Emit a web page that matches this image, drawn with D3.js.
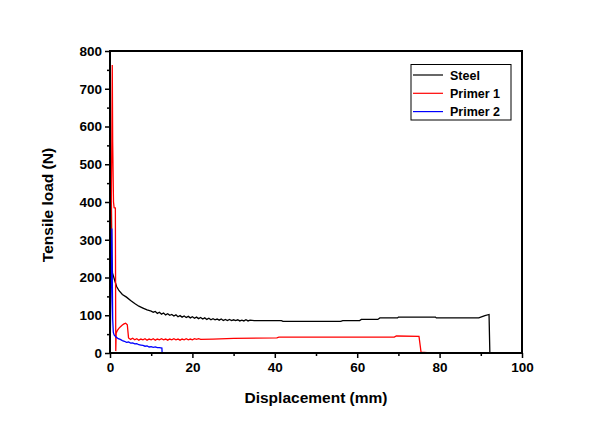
<!DOCTYPE html>
<html><head><meta charset="utf-8">
<script src="https://cdn.jsdelivr.net/npm/d3@7"></script>
<style>body{margin:0;background:#fff;} text{font-family:"Liberation Sans",Arial,sans-serif;font-weight:bold;}</style>
</head><body>
<svg id="c" width="609" height="426"></svg>
<script>
const seriesNames = ["Steel", "Primer 1", "Primer 2"];
const seriesColors = ["#000000", "#ff0000", "#0000ff"];
const xTicks = [0, 20, 40, 60, 80, 100];
const yTicks = [0, 100, 200, 300, 400, 500, 600, 700, 800];

const steelX = [0,0.15,0.3,0.45,0.6,0.8,1.2,1.6,2.2,3,4,5,6,7,8,9,10,10.5,11,11.5,12,12.5,13,13.5,14,14.5,15,15.5,16,16.5,17,17.5,18,18.5,19,19.5,20,20.5,21,21.5,22,22.5,23,23.5,24,24.5,25,25.5,26,26.5,27,27.5,28,28.5,29,29.5,30,30.5,31,31.5,32,32.5,33,33.5,34,35,41.6,42,56,56.5,60.6,61,65,65.5,69.8,70,79,79.2,89.5,91,92,92.2];
const steelY = [0,300,440,260,212,205,190,176,165,155,148,139,131,124,119,114,111,108,110,105,108,103,106,101,104,100,102,98,101,96,99,95,98,94,97,93,96,92,95,91,94,90,93,89,92,88,91,88,90,87,90,86,89,86,89,86,88,86,88,85,87,85,88,85,87,86,86,84,84,86,86,89,89,93,93,95,95,93,93,99,102,0];

const p1X = [0,0.2,0.35,0.45,0.55,0.65,0.85,1.0,1.3,1.4,1.5,1.8,2.2,2.6,3,3.4,3.8,4.2,4.5,5,5.5,6,6.5,7,7.5,8,8.5,9,9.5,10,10.5,11,11.5,12,12.5,13,13.5,14,14.5,15,15.5,16,16.5,17,17.5,18,18.5,19,19.5,20,20.5,21,21.5,22,25,30,40.5,41,69,69.5,75,75.5,77];
const p1Y = [0,250,440,570,763,560,400,385,384,5,52,60,66,70,74,77,79,75,40,36,39,35,38,34,37,35,38,34,37,35,38,34,37,35,38,35,37,34,37,35,38,35,37,34,37,35,38,35,37,35,38,36,38,36,37,39,40,42,42,45,44,2,1];

const p2X = [0,0.3,0.45,0.55,0.65,0.8,1,1.5,2,2.5,3,3.5,4,4.5,5,5.5,6,6.5,7,7.5,8,8.5,9,9.5,10,10.5,11,11.5,12,12.6,12.65];
const p2Y = [0,200,330,210,90,55,48,42,38,36,33,31,28,29,26,27,24,25,22,21,20,18,19,16,17,15,16,14,14,13,0];

const m = {l:110, r:522, t:51, b:353};
const svg = d3.select("#c");
const x = d3.scaleLinear().domain([0,100]).range([m.l, m.r]);
const y = d3.scaleLinear().domain([0,800]).range([m.b, m.t]);

const plot = svg.append("g");
const data = [
  steelX.map((v,i)=>[v, steelY[i]]),
  p1X.map((v,i)=>[v, p1Y[i]]),
  p2X.map((v,i)=>[v, p2Y[i]])
];
const line = d3.line().x(d=>x(d[0])).y(d=>y(d[1]));
[0,1,2].forEach(i=>{
  plot.append("path").datum(data[i]).attr("d", line)
    .attr("fill","none").attr("stroke", seriesColors[i]).attr("stroke-width",1.3);
});

svg.append("rect").attr("x",m.l).attr("y",m.t).attr("width",m.r-m.l).attr("height",m.b-m.t)
  .attr("fill","none").attr("stroke","#000").attr("stroke-width",2);

const xAxis = d3.axisBottom(x).tickValues(xTicks).tickSize(5).tickPadding(4).tickFormat(d3.format("d"));
svg.append("g").attr("transform",`translate(0,${m.b})`).call(xAxis);
const xMinor = d3.axisBottom(x).tickValues([10,30,50,70,90]).tickSize(3).tickFormat("");
svg.append("g").attr("transform",`translate(0,${m.b})`).call(xMinor);
const yAxis = d3.axisLeft(y).tickValues(yTicks).tickSize(5).tickPadding(3).tickFormat(d3.format("d"));
svg.append("g").attr("transform",`translate(${m.l},0)`).call(yAxis);
const yMinor = d3.axisLeft(y).tickValues([50,150,250,350,450,550,650,750]).tickSize(3).tickFormat("");
svg.append("g").attr("transform",`translate(${m.l},0)`).call(yMinor);

svg.selectAll(".domain").remove();
svg.selectAll(".tick line").attr("stroke","#000").attr("stroke-width",1.5);
svg.selectAll(".tick text").attr("fill","#000").style("font-size","13.5px")
  .style("font-family","'Liberation Sans',Arial,sans-serif").style("font-weight","bold");

svg.append("text").attr("x",(m.l+m.r)/2).attr("y",403).attr("text-anchor","middle")
  .style("font-size","15.5px").text("Displacement (mm)");
svg.append("text").attr("transform",`translate(53,${205}) rotate(-90)`).attr("text-anchor","middle")
  .style("font-size","15.5px").text("Tensile load (N)");

const lg = svg.append("g");
lg.append("rect").attr("x",411).attr("y",64.5).attr("width",100).attr("height",55.5)
  .attr("fill","#fff").attr("stroke","#000").attr("stroke-width",1);
seriesNames.forEach((n,i)=>{
  const yy = 75 + i*18.3;
  lg.append("line").attr("x1",413).attr("x2",443).attr("y1",yy).attr("y2",yy)
    .attr("stroke",seriesColors[i]).attr("stroke-width",1.2);
  lg.append("text").attr("x",450).attr("y",yy+4.5).style("font-size","12.5px").text(n);
});
</script>
</body></html>
